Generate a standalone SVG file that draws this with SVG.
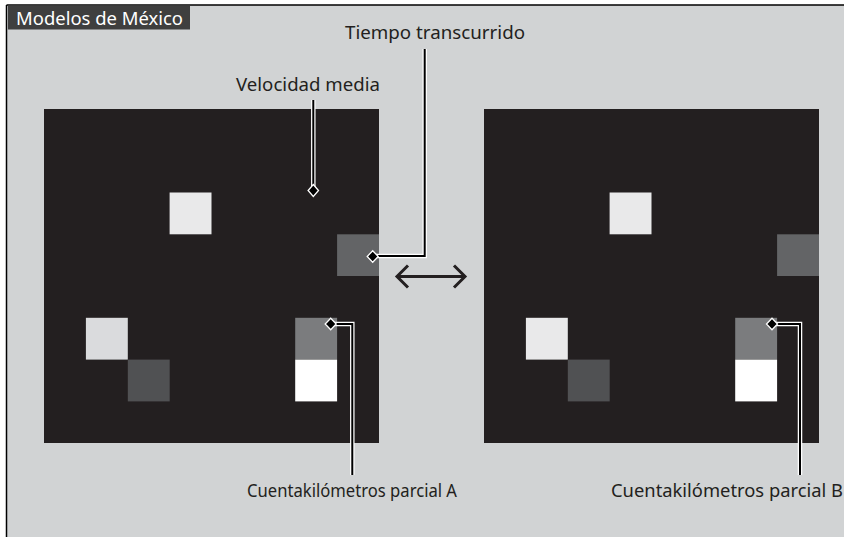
<svg xmlns="http://www.w3.org/2000/svg" width="844" height="537" viewBox="0 0 844 537">
<style>
.lbl{font-family:"Noto Sans","Liberation Sans",sans-serif;font-size:17.5px;fill:#231f20}
.scr{fill:#231f20}
.halo{fill:none;stroke:#ffffff;stroke-width:4.5;stroke-linejoin:miter}
.core{fill:none;stroke:#000000;stroke-width:2;stroke-linejoin:miter}
.dia{fill:#000000;stroke:#ffffff;stroke-width:1.3}
</style>
<rect x="0" y="0" width="844" height="537" fill="#ffffff"/>
<rect x="6.5" y="5" width="838" height="532" fill="#d1d3d4"/>
<line x1="6.5" y1="5" x2="844" y2="5" stroke="#000" stroke-width="1.5"/>
<line x1="6.5" y1="5" x2="6.5" y2="537" stroke="#000" stroke-width="1.5"/>
<g id="title">
<rect x="8" y="5.5" width="182" height="24" fill="#3f3f3f"/>
<text x="16" y="24.5" font-family="'Noto Sans','Liberation Sans',sans-serif" font-size="18" textLength="167" lengthAdjust="spacingAndGlyphs" fill="#ffffff">Modelos de México</text>
</g>
<g id="screen-left">
<rect class="scr" x="44" y="109" width="335" height="334"/>
<rect x="169.6" y="192.5" width="41.9" height="41.8" fill="#e9e9ea"/>
<rect x="337.1" y="234.3" width="41.9" height="41.7" fill="#636466"/>
<rect x="85.9" y="317.8" width="41.9" height="41.8" fill="#dadbdd"/>
<rect x="127.8" y="359.6" width="41.9" height="41.8" fill="#505153"/>
<rect x="295.2" y="317.8" width="41.9" height="41.8" fill="#7b7c7e"/>
<rect x="295.2" y="359.6" width="41.9" height="41.8" fill="#ffffff"/>
</g>
<g id="screen-right">
<rect class="scr" x="484" y="109" width="335" height="334"/>
<rect x="609.6" y="192.5" width="41.9" height="41.8" fill="#e9e9ea"/>
<rect x="777.1" y="234.3" width="41.9" height="41.7" fill="#636466"/>
<rect x="525.9" y="317.8" width="41.9" height="41.8" fill="#e9e9ea"/>
<rect x="567.8" y="359.6" width="41.9" height="41.8" fill="#505153"/>
<rect x="735.2" y="317.8" width="41.9" height="41.8" fill="#7b7c7e"/>
<rect x="735.2" y="359.6" width="41.9" height="41.8" fill="#ffffff"/>
</g>
<g id="arrow">
<line x1="398" y1="276.5" x2="464" y2="276.5" stroke="#231f20" stroke-width="3"/>
<polyline points="408,265.5 397,276.5 408,287.5" fill="none" stroke="#231f20" stroke-width="3"/>
<polyline points="454,265.5 465,276.5 454,287.5" fill="none" stroke="#231f20" stroke-width="3"/>
</g>
<g id="labels">
<text class="lbl" x="308" y="91" text-anchor="middle" textLength="144" lengthAdjust="spacingAndGlyphs">Velocidad media</text>
<text class="lbl" x="435" y="39" text-anchor="middle" textLength="180" lengthAdjust="spacingAndGlyphs">Tiempo transcurrido</text>
<text class="lbl" x="352" y="497" text-anchor="middle" textLength="210" lengthAdjust="spacingAndGlyphs">Cuentakilómetros parcial A</text>
<text class="lbl" x="843" y="497" text-anchor="end" textLength="232" lengthAdjust="spacingAndGlyphs">Cuentakilómetros parcial B</text>
</g>
<g id="connectors">
<polyline class="halo" points="313.3,100 313.3,189"/>
<polyline class="core" points="313.3,100 313.3,189"/>
<polyline class="halo" points="424.7,49 424.7,256 373,256"/>
<polyline class="core" points="424.7,49 424.7,256 373,256"/>
<polyline class="halo" points="331,324 352.3,324 352.3,475"/>
<polyline class="core" points="331,324 352.3,324 352.3,475"/>
<polyline class="halo" points="772,324 800,324 800,475"/>
<polyline class="core" points="772,324 800,324 800,475"/>
<polygon class="dia" points="313.3,184.5 318.5,190.5 313.3,196.5 308.1,190.5"/>
<polygon class="dia" points="372.7,250.7 378.2,256.5 372.7,262.3 367.2,256.5"/>
<polygon class="dia" points="330.7,318.3 336.2,324 330.7,329.7 325.2,324"/>
<polygon class="dia" points="772,318.3 777.5,324 772,329.7 766.5,324"/>
</g>
</svg>
